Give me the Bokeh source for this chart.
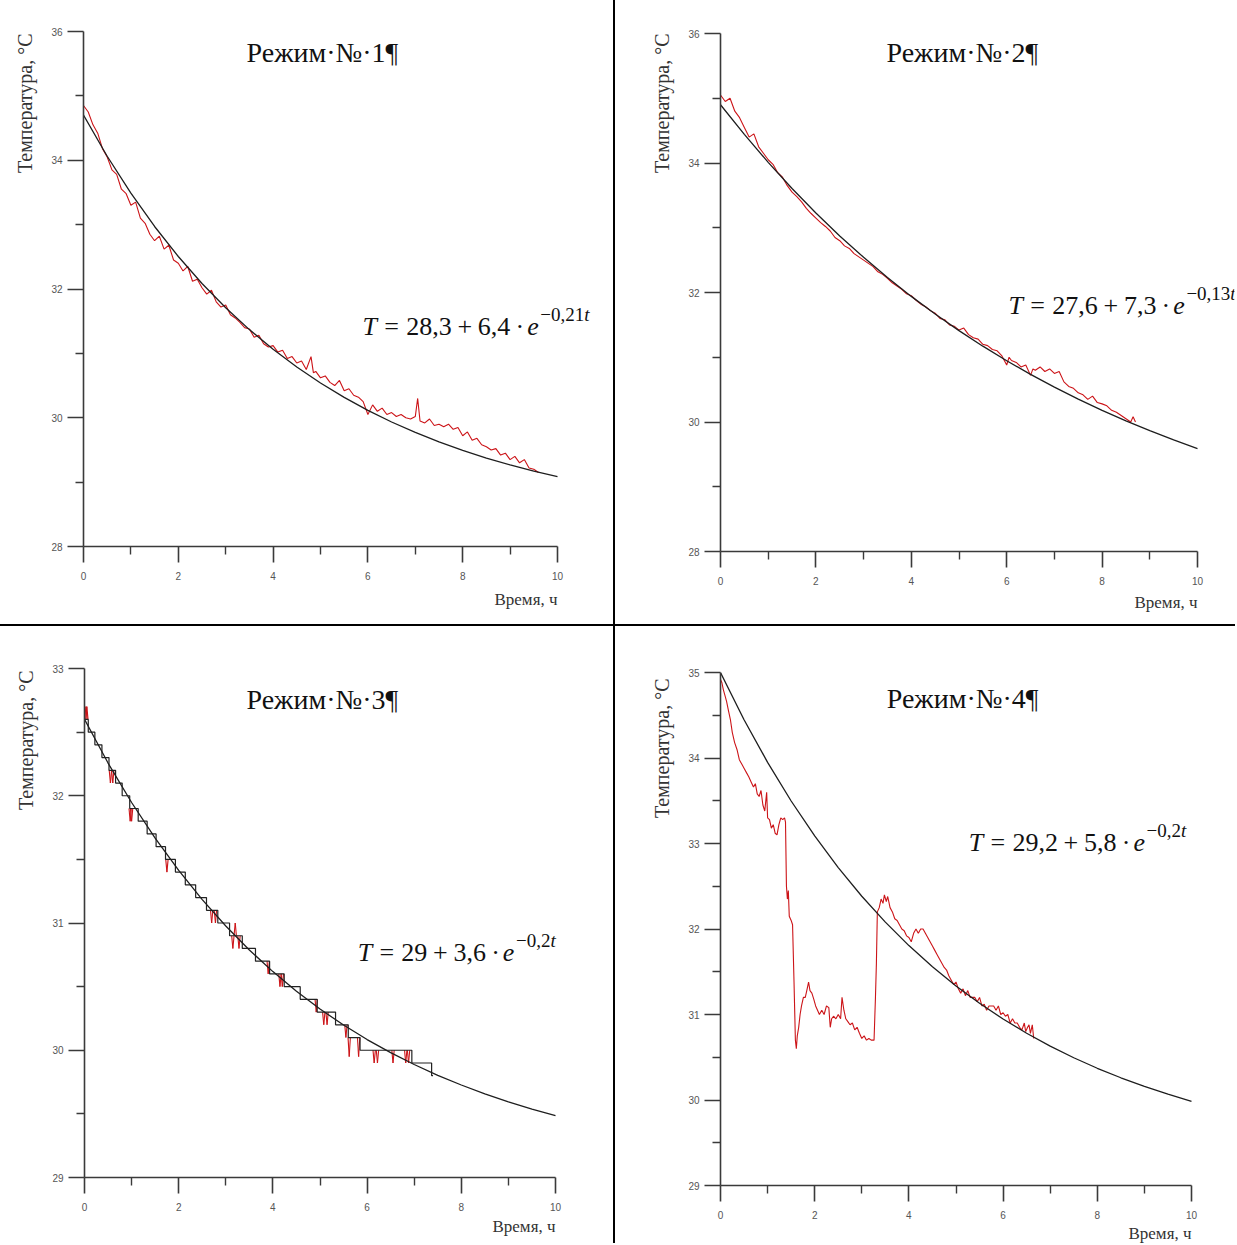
from math import pi
from bokeh.plotting import figure
from bokeh.models import Range1d, FixedTicker, Label, Title
from bokeh.layouts import gridplot
from bokeh.embed import file_html
from bokeh.resources import INLINE

# ---------------- data ----------------
fit_t = [0.0, 0.5, 1.0, 1.5, 2.0, 2.5, 3.0, 3.5, 4.0, 4.5, 5.0,
         5.5, 6.0, 6.5, 7.0, 7.5, 8.0, 8.5, 9.0, 9.5, 10.0]
fit1 = [34.700, 34.062, 33.488, 32.971, 32.505, 32.086, 31.709, 31.369, 31.063, 30.788, 30.540,
        30.316, 30.115, 29.934, 29.772, 29.625, 29.493, 29.374, 29.267, 29.170, 29.084]
fit2 = [34.900, 34.441, 34.010, 33.607, 33.229, 32.874, 32.543, 32.232, 31.940, 31.667, 31.411,
        31.171, 30.946, 30.736, 30.538, 30.354, 30.180, 30.018, 29.866, 29.723, 29.590]
fit3 = [32.600, 32.257, 31.947, 31.667, 31.413, 31.184, 30.976, 30.788, 30.618, 30.464, 30.324,
        30.198, 30.084, 29.981, 29.888, 29.803, 29.727, 29.658, 29.595, 29.538, 29.487]
fit4 = [35.000, 34.448, 33.949, 33.497, 33.088, 32.718, 32.383, 32.080, 31.806, 31.558, 31.334,
        31.131, 30.947, 30.781, 30.630, 30.494, 30.371, 30.260, 30.159, 30.068, 29.985]

m1_t = [
    0.0, 0.1, 0.2, 0.3, 0.4, 0.5, 0.6, 0.7, 0.8, 0.9,
    1.0, 1.1, 1.2, 1.3, 1.4, 1.5, 1.6, 1.7, 1.8, 1.9,
    2.0, 2.1, 2.2, 2.3, 2.4, 2.5, 2.6, 2.7, 2.8, 2.9,
    3.0, 3.1, 3.2, 3.3, 3.4, 3.5, 3.6, 3.7, 3.8, 3.9,
    4.0, 4.1, 4.2, 4.3, 4.4, 4.5, 4.6, 4.7, 4.8, 4.85,
    4.9, 5.0, 5.1, 5.2, 5.3, 5.4, 5.5, 5.6, 5.7, 5.8,
    5.9, 6.0, 6.1, 6.2, 6.3, 6.4, 6.5, 6.6, 6.7, 6.8,
    6.9, 7.0, 7.05, 7.1, 7.2, 7.3, 7.4, 7.5, 7.6, 7.7,
    7.8, 7.9, 8.0, 8.1, 8.2, 8.3, 8.4, 8.5, 8.6, 8.7,
    8.8, 8.9, 9.0, 9.1, 9.2, 9.3, 9.4, 9.5, 9.6]
m1_T = [
    34.85, 34.75, 34.55, 34.42, 34.18, 34.05, 33.85, 33.78, 33.55, 33.48,
    33.30, 33.35, 33.10, 33.02, 32.85, 32.75, 32.82, 32.62, 32.68, 32.45,
    32.40, 32.28, 32.35, 32.12, 32.15, 32.02, 31.92, 31.98, 31.80, 31.72,
    31.75, 31.60, 31.55, 31.48, 31.40, 31.38, 31.25, 31.28, 31.15, 31.10,
    31.12, 31.02, 31.05, 30.92, 30.95, 30.85, 30.88, 30.75, 30.95, 30.70,
    30.72, 30.62, 30.65, 30.55, 30.50, 30.58, 30.42, 30.45, 30.35, 30.32,
    30.25, 30.05, 30.20, 30.10, 30.15, 30.05, 30.08, 30.02, 30.05, 30.00,
    29.98, 30.02, 30.30, 29.95, 29.92, 29.98, 29.88, 29.90, 29.86, 29.90,
    29.82, 29.85, 29.72, 29.78, 29.65, 29.68, 29.58, 29.55, 29.50, 29.52,
    29.42, 29.45, 29.35, 29.40, 29.30, 29.35, 29.22, 29.20, 29.15]

m2_t = [
    0.0, 0.1, 0.2, 0.3, 0.4, 0.5, 0.6, 0.7, 0.8, 0.9,
    1.0, 1.1, 1.2, 1.3, 1.4, 1.5, 1.6, 1.7, 1.8, 1.9,
    2.0, 2.1, 2.2, 2.3, 2.4, 2.5, 2.6, 2.7, 2.8, 2.9,
    3.0, 3.1, 3.2, 3.3, 3.4, 3.5, 3.6, 3.7, 3.8, 3.9,
    4.0, 4.1, 4.2, 4.3, 4.4, 4.5, 4.6, 4.7, 4.8, 4.9,
    5.0, 5.1, 5.2, 5.3, 5.4, 5.5, 5.6, 5.7, 5.8, 5.9,
    6.0, 6.05, 6.1, 6.2, 6.3, 6.4, 6.5, 6.55, 6.6, 6.7,
    6.8, 6.9, 7.0, 7.1, 7.2, 7.3, 7.4, 7.5, 7.6, 7.7,
    7.8, 7.9, 8.0, 8.1, 8.2, 8.3, 8.4, 8.5, 8.6, 8.65,
    8.7]
m2_T = [
    35.05, 34.95, 35.00, 34.80, 34.70, 34.55, 34.40, 34.45, 34.25, 34.15,
    34.05, 33.98, 33.85, 33.78, 33.65, 33.55, 33.48, 33.40, 33.30, 33.22,
    33.15, 33.08, 33.02, 32.95, 32.85, 32.80, 32.72, 32.68, 32.60, 32.55,
    32.50, 32.45, 32.40, 32.32, 32.28, 32.22, 32.15, 32.10, 32.05, 31.98,
    31.95, 31.88, 31.82, 31.78, 31.72, 31.68, 31.60, 31.58, 31.50, 31.48,
    31.42, 31.45, 31.35, 31.30, 31.28, 31.20, 31.18, 31.12, 31.10, 31.02,
    30.88, 31.00, 30.95, 30.92, 30.85, 30.88, 30.72, 30.82, 30.80, 30.85,
    30.78, 30.82, 30.75, 30.78, 30.62, 30.55, 30.52, 30.45, 30.42, 30.35,
    30.40, 30.30, 30.28, 30.25, 30.18, 30.15, 30.10, 30.05, 30.00, 30.08,
    30.00]

# panel 3: stepped record (level starts) and single-sample spikes
s3_t = [0.00, 0.08, 0.22, 0.37, 0.52, 0.66, 0.80, 0.96, 1.14, 1.33,
        1.52, 1.72, 1.93, 2.14, 2.36, 2.59, 2.83, 3.08, 3.35, 3.63,
        3.93, 4.24, 4.58, 4.94, 5.33, 5.60, 5.85, 6.95, 7.37, 7.40]
s3_T = [32.6, 32.5, 32.4, 32.3, 32.2, 32.1, 32.0, 31.9, 31.8, 31.7,
        31.6, 31.5, 31.4, 31.3, 31.2, 31.1, 31.0, 30.9, 30.8, 30.7,
        30.6, 30.5, 30.4, 30.3, 30.2, 30.1, 30.0, 29.9, 29.8, 29.8]
sp3_t = [0.03, 0.05, 0.55, 0.60, 0.97, 1.00, 1.75, 2.70, 2.78, 3.15, 3.20, 3.28, 3.90,
         4.15, 4.20, 4.92, 5.08, 5.15, 5.55, 5.62, 5.82, 6.15, 6.22, 6.55, 6.82, 6.88]
sp3_base = [32.6, 32.6, 32.2, 32.2, 31.9, 31.9, 31.5, 31.1, 31.1, 30.9, 30.9, 30.9, 30.7,
            30.6, 30.6, 30.4, 30.3, 30.3, 30.2, 30.1, 30.1, 30.0, 30.0, 30.0, 30.0, 30.0]
sp3_tip = [32.7, 32.7, 32.1, 32.1, 31.8, 31.8, 31.4, 31.0, 31.0, 30.8, 31.0, 30.8, 30.6,
           30.5, 30.5, 30.3, 30.2, 30.2, 30.1, 29.95, 29.95, 29.9, 29.9, 29.9, 29.9, 29.9]

m4_t = [
    0.00, 0.03, 0.06, 0.10, 0.13, 0.17, 0.21, 0.25, 0.30, 0.35,
    0.40, 0.46, 0.50, 0.56, 0.60, 0.65, 0.70, 0.74, 0.78, 0.82,
    0.86, 0.90, 0.94, 0.98, 1.00, 1.04, 1.08, 1.12, 1.16, 1.20,
    1.24, 1.28, 1.32, 1.36, 1.38, 1.40, 1.42, 1.44, 1.46, 1.50,
    1.53, 1.56, 1.59, 1.61, 1.63, 1.66, 1.69, 1.72, 1.76, 1.80,
    1.84, 1.87, 1.90, 1.94, 1.98, 2.02, 2.06, 2.10, 2.15, 2.20,
    2.25, 2.30, 2.33, 2.36, 2.40, 2.45, 2.50, 2.55, 2.58, 2.62,
    2.66, 2.70, 2.75, 2.80, 2.85, 2.90, 2.95, 3.00, 3.05, 3.10,
    3.15, 3.20, 3.26, 3.29, 3.31, 3.33, 3.37, 3.41, 3.45, 3.48,
    3.52, 3.55, 3.60, 3.65, 3.70, 3.75, 3.80, 3.85, 3.90, 3.95,
    4.00, 4.05, 4.10, 4.15, 4.20, 4.25, 4.30, 4.35, 4.40, 4.45,
    4.50, 4.55, 4.60, 4.65, 4.70, 4.75, 4.80, 4.85, 4.90, 4.95,
    5.00, 5.05, 5.10, 5.15, 5.20, 5.25, 5.30, 5.40, 5.45, 5.50,
    5.55, 5.60, 5.65, 5.70, 5.80, 5.85, 5.90, 5.95, 6.00, 6.05,
    6.10, 6.15, 6.20, 6.25, 6.30, 6.35, 6.40, 6.45, 6.48, 6.52,
    6.55, 6.58, 6.62, 6.65]
m4_T = [
    34.92, 34.88, 34.80, 34.72, 34.66, 34.55, 34.45, 34.30, 34.18, 34.10,
    33.98, 33.92, 33.88, 33.82, 33.78, 33.72, 33.66, 33.70, 33.58, 33.55,
    33.62, 33.45, 33.38, 33.60, 33.30, 33.28, 33.18, 33.22, 33.12, 33.10,
    33.22, 33.30, 33.28, 33.30, 33.25, 32.50, 32.35, 32.45, 32.15, 32.10,
    32.05, 31.40, 30.70, 30.60, 30.75, 30.85, 31.00, 31.10, 31.20, 31.20,
    31.30, 31.38, 31.28, 31.25, 31.18, 31.10, 31.05, 31.00, 31.05, 31.00,
    31.10, 31.08, 30.85, 30.95, 30.98, 30.95, 31.00, 30.95, 31.20, 31.05,
    30.95, 30.92, 30.88, 30.90, 30.82, 30.85, 30.78, 30.72, 30.75, 30.70,
    30.72, 30.70, 30.70, 31.20, 31.60, 32.20, 32.25, 32.35, 32.30, 32.40,
    32.32, 32.38, 32.25, 32.20, 32.12, 32.10, 32.05, 32.00, 31.98, 31.92,
    31.90, 31.85, 31.95, 32.00, 31.95, 32.00, 32.00, 31.95, 31.90, 31.85,
    31.80, 31.75, 31.70, 31.65, 31.60, 31.55, 31.52, 31.45, 31.40, 31.35,
    31.38, 31.30, 31.25, 31.30, 31.22, 31.28, 31.20, 31.20, 31.15, 31.20,
    31.10, 31.12, 31.05, 31.10, 31.10, 31.05, 31.10, 31.00, 31.02, 30.98,
    31.00, 30.90, 30.95, 30.90, 30.90, 30.85, 30.82, 30.90, 30.80, 30.85,
    30.88, 30.78, 30.88, 30.72]

titles = ["Режим·№·1¶", "Режим·№·2¶", "Режим·№·3¶", "Режим·№·4¶"]
eq_a = ["28,3", "27,6", "29", "29,2"]
eq_b = ["6,4", "7,3", "3,6", "5,8"]
eq_sup = ["−0,21", "−0,13", "−0,2", "−0,2"]
y_title = "Температура, °C"
x_title = "Время, ч"

x_major = [0, 2, 4, 6, 8, 10]
x_minor = [1, 3, 5, 7, 9]
y_major_a = [28, 30, 32, 34, 36]
y_minor_a = [29, 31, 33, 35]
y_major_3 = [29, 30, 31, 32, 33]
y_minor_3 = [29.5, 30.5, 31.5, 32.5]
y_major_4 = [29, 30, 31, 32, 33, 34, 35]
y_minor_4 = [29.5, 30.5, 31.5, 32.5, 33.5, 34.5]

# ---------------- styling helpers ----------------
AX = "#3a3a3a"
RED = "#cc1418"
FIT = "#1e1e1e"
INK = "#111111"
SERIF = "Liberation Serif"
EM = {' ': 0.25, '=': 0.564, '+': 0.564, ',': 0.25, '·': 0.25, '−': 0.564, 't': 0.278}


def twidth(s, size):
    return sum(EM.get(c, 0.5) for c in s) * size


def make_fig(w, h, bl, bt, bb, data_w, yr, ymaj, ymin):
    br = 1
    x_end = 10.0 * (w - bl - br) / data_w
    p = figure(width=w, height=h, x_range=Range1d(0, x_end), y_range=Range1d(*yr),
               output_backend="svg", toolbar_location=None,
               min_border_left=bl, min_border_right=br, min_border_top=bt, min_border_bottom=bb)
    p.frame_align = False
    p.styles = {"background-color": "white"}
    p.outline_line_color = None
    p.grid.visible = False
    p.background_fill_color = "white"
    p.border_fill_color = "white"
    p.xaxis.ticker = FixedTicker(ticks=x_major, minor_ticks=x_minor)
    p.yaxis.ticker = FixedTicker(ticks=ymaj, minor_ticks=ymin)
    p.xaxis.bounds = (0, 10)
    for ax in (p.xaxis[0], p.yaxis[0]):
        ax.axis_line_color = AX
        ax.axis_line_width = 1.6
        ax.major_tick_line_color = AX
        ax.major_tick_line_width = 1.6
        ax.minor_tick_line_color = AX
        ax.minor_tick_line_width = 1.4
        ax.major_tick_in = 0
        ax.major_tick_out = 16
        ax.minor_tick_in = 0
        ax.minor_tick_out = 8
        ax.major_label_text_font = "Liberation Sans"
        ax.major_label_text_font_size = "10px"
        ax.major_label_text_color = "#555555"
    p.xaxis.major_label_standoff = 9
    p.yaxis.major_label_standoff = 5
    return p, x_end


def add_texts(p, x_end, data_w, title_xy, title, ytitle_off, xstand, eq_xy, a, b, sup):
    frame_w = data_w * x_end / 10.0
    p.add_layout(Title(text=x_title, align="right", offset=frame_w - data_w,
                       standoff=xstand, text_font=SERIF, text_font_size="17px",
                       text_font_style="normal", text_color="#333333"), "below")
    p.add_layout(Title(text=y_title, align="right", vertical_align="top", offset=ytitle_off,
                       standoff=22, text_font=SERIF, text_font_size="20px",
                       text_font_style="normal", text_color="#333333"), "left")
    p.add_layout(Label(x=title_xy[0], y=title_xy[1], text=title, text_font=SERIF,
                       text_font_size="28px", text_align="center", text_baseline="middle",
                       text_color=INK))
    ex, ey = eq_xy
    big, small = 26, 19
    pieces = [("T", "italic", big, 0.556, 0.28, 0),
              ("=", "normal", big, 0.564, 0.28, 0),
              (a, "normal", big, twidth(a, 1), 0.22, 0),
              ("+", "normal", big, 0.564, 0.22, 0),
              (b, "normal", big, twidth(b, 1), 0.20, 0),
              ("·", "normal", big, 0.25, 0.20, 0),
              ("e", "italic", big, 0.444, 0.06, 0),
              (sup, "normal", small, twidth(sup, 1), 0.0, 12),
              ("t", "italic", small, 0.278, 0.0, 12)]
    off = 0.0
    for txt, style, size, w_em, gap_em, dy in pieces:
        p.add_layout(Label(x=ex, y=ey, text=txt, text_font=SERIF, text_font_style=style,
                           text_font_size=f"{size}px", x_offset=off, y_offset=dy,
                           text_baseline="alphabetic", text_color=INK))
        off += (w_em + gap_em) * size


# ---------------- panel 1 ----------------
p1, xe1 = make_fig(613, 624, 83, 31, 78, 474, (28, 36), y_major_a, y_minor_a)
p1.line(m1_t, m1_T, line_color=RED, line_width=1.1)
p1.line(fit_t, fit1, line_color=FIT, line_width=1.3)
add_texts(p1, xe1, 474, (5.04, 35.67), titles[0], 2, 10, (5.886, 31.42), eq_a[0], eq_b[0], eq_sup[0])

# ---------------- panel 2 ----------------
p2, xe2 = make_fig(620, 624, 105, 33, 73, 477, (28, 36), y_major_a, y_minor_a)
p2.line(m2_t, m2_T, line_color=RED, line_width=1.1)
p2.line(fit_t, fit2, line_color=FIT, line_width=1.3)
add_texts(p2, xe2, 477, (5.07, 35.71), titles[1], 0, 6, (6.04, 31.80), eq_a[1], eq_b[1], eq_sup[1])

# ---------------- panel 3 ----------------
p3, xe3 = make_fig(613, 617, 84, 42, 66, 471, (29, 33), y_major_3, y_minor_3)
p3.segment(x0=[t - 0.025 for t in sp3_t], y0=sp3_base, x1=sp3_t, y1=sp3_tip,
           line_color=RED, line_width=1.1)
p3.segment(x0=sp3_t, y0=sp3_tip, x1=[t + 0.025 for t in sp3_t], y1=sp3_base,
           line_color=RED, line_width=1.1)
p3.step(s3_t, s3_T, mode="after", line_color="#222222", line_width=1.2)
p3.line(fit_t, fit3, line_color=FIT, line_width=1.3)
add_texts(p3, xe3, 471, (5.05, 32.76), titles[2], 2, 2, (5.80, 30.77), eq_a[2], eq_b[2], eq_sup[2])

# ---------------- panel 4 ----------------
p4, xe4 = make_fig(620, 617, 105, 46, 58, 471, (29, 35), y_major_4, y_minor_4)
p4.line(m4_t, m4_T, line_color=RED, line_width=1.1)
p4.line(fit_t, fit4, line_color=FIT, line_width=1.3)
add_texts(p4, xe4, 471, (5.14, 34.70), titles[3], 6, 0, (5.27, 33.01), eq_a[3], eq_b[3], eq_sup[3])

grid = gridplot([[p1, p2], [p3, p4]], toolbar_location=None)
grid.spacing = 2
grid.styles = {"background-color": "#000000"}

open("out.html", "w").write(file_html(grid, INLINE))
